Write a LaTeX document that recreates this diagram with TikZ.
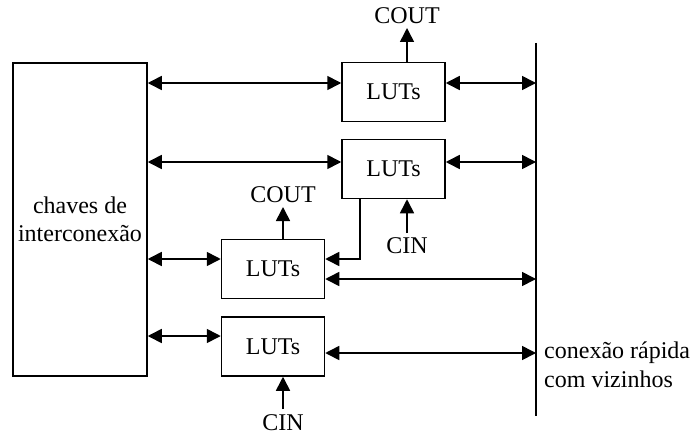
\documentclass[tikz,border=0pt]{standalone}
\usepackage{fontspec}
\setmainfont{Liberation Serif}
\usetikzlibrary{arrows.meta}
\begin{document}
\begin{tikzpicture}[x=1pt,y=-1pt,
  every node/.style={font=\fontsize{24}{28.5}\selectfont},
  lut/.style={draw,line width=1.5pt,minimum width=103pt,minimum height=59pt,inner sep=0pt},
  bigbox/.style={draw,line width=1.5pt,minimum width=134pt,minimum height=313pt,align=center,inner sep=0pt},
  lbl/.style={inner xsep=0pt,inner ysep=4.5pt},
  conn/.style={line width=1.6pt},
  dbl/.style={conn,{Triangle[length=14pt,width=14pt]}-{Triangle[length=14pt,width=14pt]}},
  sgl/.style={conn,-{Triangle[length=14pt,width=14pt]}},
  busline/.style={line width=1.6pt}]
\useasboundingbox (0,0) rectangle (692,436);
% blocks
\node[bigbox] (big) at (80,219.5) {chaves de\\interconexão};
\node[lut] (L1) at (393.5,92) {LUTs};
\node[lut] (L2) at (393.5,169) {LUTs};
\node[lut] (L3) at (273,269) {LUTs};
\node[lut] (L4) at (273,346.5) {LUTs};
% helper coordinates
\coordinate (r1) at (0,83);
\coordinate (r2) at (0,162);
\coordinate (r3a) at (0,259);
\coordinate (r3b) at (0,279);
\coordinate (r4a) at (0,336);
\coordinate (r4b) at (0,353);
\coordinate (busT) at (536,43);
\coordinate (busB) at (536,416);
\coordinate (c1) at (407,0);
\coordinate (c3) at (283,0);
\coordinate (k) at (360,0);
% bus
\draw[busline] (busT) -- (busB);
\node[anchor=west,align=left,inner sep=0pt] (rt) at (544,365) {conexão rápida\\com vizinhos};
% connections
\draw[dbl] (big.east |- r1) -- (L1.west |- r1);
\draw[dbl] (L1.east |- r1) -- (busT |- r1);
\draw[dbl] (big.east |- r2) -- (L2.west |- r2);
\draw[dbl] (L2.east |- r2) -- (busT |- r2);
\draw[dbl] (big.east |- r3a) -- (L3.west |- r3a);
\draw[sgl] (L2.south -| k) |- (L3.east |- r3a);
\draw[dbl] (L3.east |- r3b) -- (busT |- r3b);
\draw[dbl] (big.east |- r4a) -- (L4.west |- r4a);
\draw[dbl] (L4.east |- r4b) -- (busT |- r4b);
% carry
\node[lbl,anchor=south] (co1) at (407,28) {COUT};
\draw[sgl] (L1.north -| c1) -- (co1.south);
\node[lbl,anchor=north] (ci2) at (407,233) {CIN};
\draw[sgl] (ci2.north) -- (L2.south -| c1);
\node[lbl,anchor=south] (co3) at (283,207) {COUT};
\draw[sgl] (L3.north -| c3) -- (co3.south);
\node[lbl,anchor=north,inner ysep=5pt] (ci4) at (283,409) {CIN};
\draw[sgl] (ci4.north) -- (L4.south -| c3);
\end{tikzpicture}
\end{document}
